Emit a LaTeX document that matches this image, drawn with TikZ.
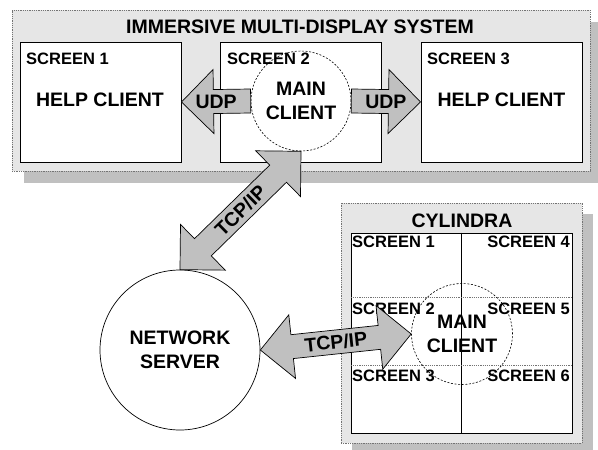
\documentclass[tikz,border=0pt]{standalone}
\usepackage{fontspec}
\setmainfont{Liberation Sans}
\usetikzlibrary{calc}

\definecolor{panelgray}{HTML}{E6E6E6}
\definecolor{shadowgray}{HTML}{C0C0C0}
\definecolor{arrowgray}{HTML}{C0C0C0}

\newcommand\lblbig{\fontsize{19.5}{24}\selectfont\bfseries}
\newcommand\lblsmall{\fontsize{16.5}{20}\selectfont\bfseries}

\tikzset{
  panel/.style={rectangle, draw=black!55, densely dotted, line width=0.8pt,
    fill=panelgray, inner sep=0pt},
  shadowfill/.style={fill=shadowgray},
  screenbox/.style={rectangle, draw=black, line width=1pt, fill=white, inner sep=0pt},
  client/.style={circle, draw=black, dash pattern=on 2pt off 1.6pt,
    line width=0.6pt, inner sep=0pt, align=center, font=\lblbig},
  server/.style={circle, draw=black, line width=0.7pt, fill=white,
    inner sep=0pt, align=center, font=\lblbig, minimum size=160pt},
  bigtext/.style={font=\lblbig, inner sep=0pt},
  smalltext/.style={font=\lblsmall, inner sep=0pt},
  blockarrow/.style={draw=black, line width=0.7pt, fill=arrowgray, line join=miter},
  rowsep/.style={draw=black!55, densely dotted, line width=1.2pt},
}

% block arrow with one head: tail #1, tip #2
\newcommand\singlearrow[2]{%
  \coordinate (ha) at ($(#2)!32pt!(#1)$);
  \draw[blockarrow] ($(#1)!12pt!90:(#2)$) -- ($(ha)!12pt!90:(#2)$)
    -- ($(ha)!32pt!90:(#2)$) -- (#2) -- ($(ha)!32pt!-90:(#2)$)
    -- ($(ha)!12pt!-90:(#2)$) -- ($(#1)!12pt!-90:(#2)$) -- cycle;}

% block arrow with heads at both ends
\newcommand\doublearrow[2]{%
  \coordinate (ha) at ($(#1)!32pt!(#2)$);
  \coordinate (hb) at ($(#2)!32pt!(#1)$);
  \draw[blockarrow] (#1) -- ($(ha)!32pt!90:(#2)$) -- ($(ha)!12pt!90:(#2)$)
    -- ($(hb)!12pt!-90:(#1)$) -- ($(hb)!32pt!-90:(#1)$) -- (#2)
    -- ($(hb)!32pt!90:(#1)$) -- ($(hb)!12pt!90:(#1)$)
    -- ($(ha)!12pt!-90:(#2)$) -- ($(ha)!32pt!-90:(#2)$) -- cycle;}

\begin{document}
\begin{tikzpicture}[x=1pt, y=-1pt]
\useasboundingbox (0,0) rectangle (598,450);

% ---- immersive multi-display system ----
\fill[shadowfill] (24,22) rectangle (602,183);
\node[panel, minimum width=578pt, minimum height=161pt] (sys) at (301,90.5) {};
\node[bigtext, anchor=base] (systitle) at (300,33) {IMMERSIVE MULTI-DISPLAY SYSTEM};

\node[screenbox, minimum width=161pt, minimum height=120pt] (s1) at (100.5,102) {};
\node[screenbox, minimum width=161pt, minimum height=120pt] (s2) at (300.5,102) {};
\node[screenbox, minimum width=161pt, minimum height=120pt] (s3) at (501.5,102) {};

\node[smalltext, anchor=base west] (s1lbl) at (26,64) {SCREEN 1};
\node[smalltext, anchor=base west] (s2lbl) at (227,64) {SCREEN 2};
\node[smalltext, anchor=base west] (s3lbl) at (427,64) {SCREEN 3};

\node[bigtext] (help1) at (100,100) {HELP CLIENT};
\node[bigtext] (help3) at (501.5,100) {HELP CLIENT};

\node[client, minimum size=100pt] (mc1) at (301,101)
  {\textbf{MAIN}\\\textbf{CLIENT}};

% ---- cylindra ----
\fill[shadowfill] (352,214) rectangle (593,455);
\node[panel, minimum width=241pt, minimum height=240pt] (cyl) at (461.5,323) {};
\node[bigtext, anchor=base] (cyltitle) at (462,227) {CYLINDRA};

\node[screenbox, minimum width=221pt, minimum height=200pt] (grid) at (461.5,333) {};
\draw[line width=0.6pt] (grid.north) -- (grid.south);
\draw[rowsep] ($(grid.north west)+(0,65)$) -- ($(grid.north east)+(0,65)$);
\draw[rowsep] ($(grid.north west)+(0,133)$) -- ($(grid.north east)+(0,133)$);

\node[smalltext, anchor=base west] (c1) at (352,247) {SCREEN 1};
\node[smalltext, anchor=base east] (c4) at (570,247) {SCREEN 4};
\node[smalltext, anchor=base west] (c2) at (352,314) {SCREEN 2};
\node[smalltext, anchor=base east] (c5) at (570,314) {SCREEN 5};
\node[smalltext, anchor=base west] (c3) at (352,381) {SCREEN 3};
\node[smalltext, anchor=base east] (c6) at (570,381) {SCREEN 6};

\node[client, minimum size=101pt] (mc2) at (462,334)
  {\textbf{MAIN}\\\textbf{CLIENT}};

% ---- network server ----
\node[server] (ns) at (180,350) {\textbf{NETWORK}\\\textbf{SERVER}};

% ---- connections ----
\singlearrow{mc1.west}{s1.east}
\path (mc1.west) -- (s1.east) node[bigtext, midway] {UDP};
\singlearrow{mc1.east}{s3.west}
\path (mc1.east) -- (s3.west) node[bigtext, midway] {UDP};

\doublearrow{ns.north}{mc1.south}
\path (ns.north) -- (mc1.south) node[bigtext, midway, sloped] {TCP/IP};

\doublearrow{ns.east}{mc2.west}
\path (ns.east) -- (mc2.west) node[bigtext, midway, sloped] {TCP/IP};
\end{tikzpicture}
\end{document}
